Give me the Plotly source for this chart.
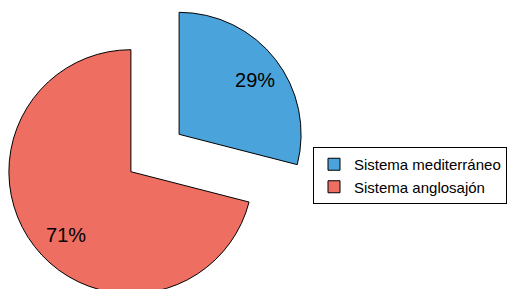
import plotly.graph_objects as go

labels = ["Sistema mediterráneo", "Sistema anglosajón"]
values = [29, 71]
colors = ["#4BA3DB", "#EF6E62"]
pulls = [0.25, 0.25]

NB = "\u00a0"
# label templates: padding with non-breaking spaces / blank lines nudges the
# horizontally-oriented inside text outward along each slice
texttemplates = [
    NB * 8 + "%{percent}<br>" + NB,
    NB + "<br>" + NB + "<br>%{percent}" + NB * 6,
]

W, H = 508, 306

fig = go.Figure(go.Pie(
    labels=labels,
    values=values,
    sort=False,
    direction="clockwise",
    rotation=0,
    pull=pulls,
    marker=dict(colors=colors, line=dict(color="black", width=1)),
    texttemplate=texttemplates,
    textposition="inside",
    insidetextorientation="horizontal",
    textfont=dict(family="Liberation Sans, Arial, sans-serif", size=20, color="black"),
    domain=dict(x=[2.5 / W, 307.5 / W], y=[0.5 / H, 1 - 0.5 / H]),
    hoverinfo="none",
))

fig.update_layout(
    width=W, height=H,
    margin=dict(l=0, r=0, t=0, b=0),
    paper_bgcolor="white",
    plot_bgcolor="white",
    showlegend=True,
    legend=dict(
        x=1 - 1 / W, xanchor="right",
        y=1 - 147 / H, yanchor="top",
        bordercolor="black", borderwidth=1,
        font=dict(family="Liberation Sans, Arial, sans-serif", size=15, color="black"),
        bgcolor="white",
        tracegroupgap=0,
    ),
)

fig.write_html(
    "out.html",
    config={"displayModeBar": False},
    post_script="document.documentElement.style.overflow='hidden';document.body.style.overflow='hidden';document.body.style.margin='0';",
)
